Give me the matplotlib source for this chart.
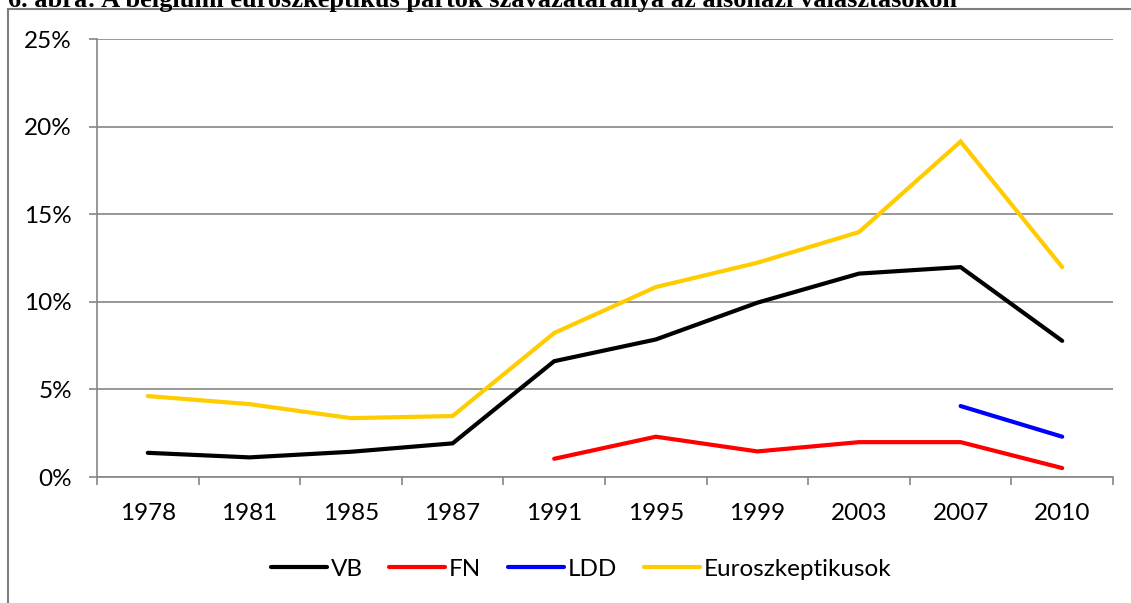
import numpy as np
import matplotlib
matplotlib.use("Agg")
import matplotlib.pyplot as plt
from matplotlib.lines import Line2D
from matplotlib.ticker import FixedLocator, FuncFormatter

years = ["1978", "1981", "1985", "1987", "1991", "1995", "1999", "2003", "2007", "2010"]
vb = [1.38, 1.12, 1.44, 1.92, 6.61, 7.85, 9.95, 11.61, 11.98, 7.77]
fn = [np.nan, np.nan, np.nan, np.nan, 1.04, 2.30, 1.46, 1.99, 1.99, 0.51]
ldd = [np.nan, np.nan, np.nan, np.nan, np.nan, np.nan, np.nan, np.nan, 4.05, 2.30]
euro = [4.62, 4.16, 3.36, 3.48, 8.22, 10.84, 12.23, 13.98, 19.15, 11.98]
series_names = ["VB", "FN", "LDD", "Euroszkeptikusok"]
series_colors = ["#000000", "#FF0000", "#0000FF", "#FFCC00"]
y_ticks = [0, 5, 10, 15, 20, 25]
title = "6. ábra: A belgiumi euroszkeptikus pártok szavazataránya az alsóházi választásokon"

W, H = 1131, 603
fig = plt.figure(figsize=(W / 100, H / 100), dpi=100)
ax = fig.add_axes([97 / W, 1 - 477 / H, (1113 - 97) / W, (477 - 39) / H])

grid_c = "#868686"
label_font = "Lato"
fs = 17.5
x = np.arange(len(years))
for vals, name, col in zip([vb, fn, ldd, euro], series_names, series_colors):
    ax.plot(x, vals, color=col, lw=3.0, label=name, solid_capstyle="round",
            solid_joinstyle="miter", zorder=3)

ax.set_xlim(-0.5, len(years) - 0.5)
ax.set_ylim(0, 25)
ax.set_yticks(y_ticks)
ax.yaxis.set_major_formatter(FuncFormatter(lambda v, p: f"{v:.0f}%"))
ax.set_xticks(x)
ax.set_xticklabels(years)
ax.xaxis.set_minor_locator(FixedLocator(np.arange(-0.5, len(years), 1.0)))
ax.tick_params(axis="x", which="major", length=0, pad=19)
ax.tick_params(axis="x", which="minor", length=6, width=1.2, color=grid_c, direction="out")
ax.tick_params(axis="y", which="major", length=6, width=1.2, color=grid_c, direction="out", pad=12)
for lab in ax.get_xticklabels() + ax.get_yticklabels():
    lab.set_fontfamily(label_font)
    lab.set_fontsize(fs)
    lab.set_color("#000000")

ax.grid(axis="y", color=grid_c, lw=1.2, zorder=0)
ax.set_axisbelow(True)
for s in ["top", "right"]:
    ax.spines[s].set_visible(False)
for s in ["left", "bottom"]:
    ax.spines[s].set_color(grid_c)
    ax.spines[s].set_linewidth(1.2)

leg = fig.legend(loc="center", bbox_to_anchor=(581 / W, 1 - 569 / H), ncol=4,
                 frameon=False, handlelength=2.3, handletextpad=0.16,
                 columnspacing=1.1, prop={"family": label_font, "size": fs})

# outer chart frame (partly outside the picture)
fig.add_artist(Line2D([8 / W, 8 / W], [0, 1 - 9 / H], transform=fig.transFigure,
                      color="#7f7f7f", lw=1.5))
fig.add_artist(Line2D([8 / W, 1], [1 - 9 / H, 1 - 9 / H], transform=fig.transFigure,
                      color="#7f7f7f", lw=1.5))

fig.text(8 / W, 1 - 7 / H, title, family="Liberation Serif", weight="bold",
         fontsize=19, va="baseline", ha="left")

fig.savefig("out.png", dpi=100)
